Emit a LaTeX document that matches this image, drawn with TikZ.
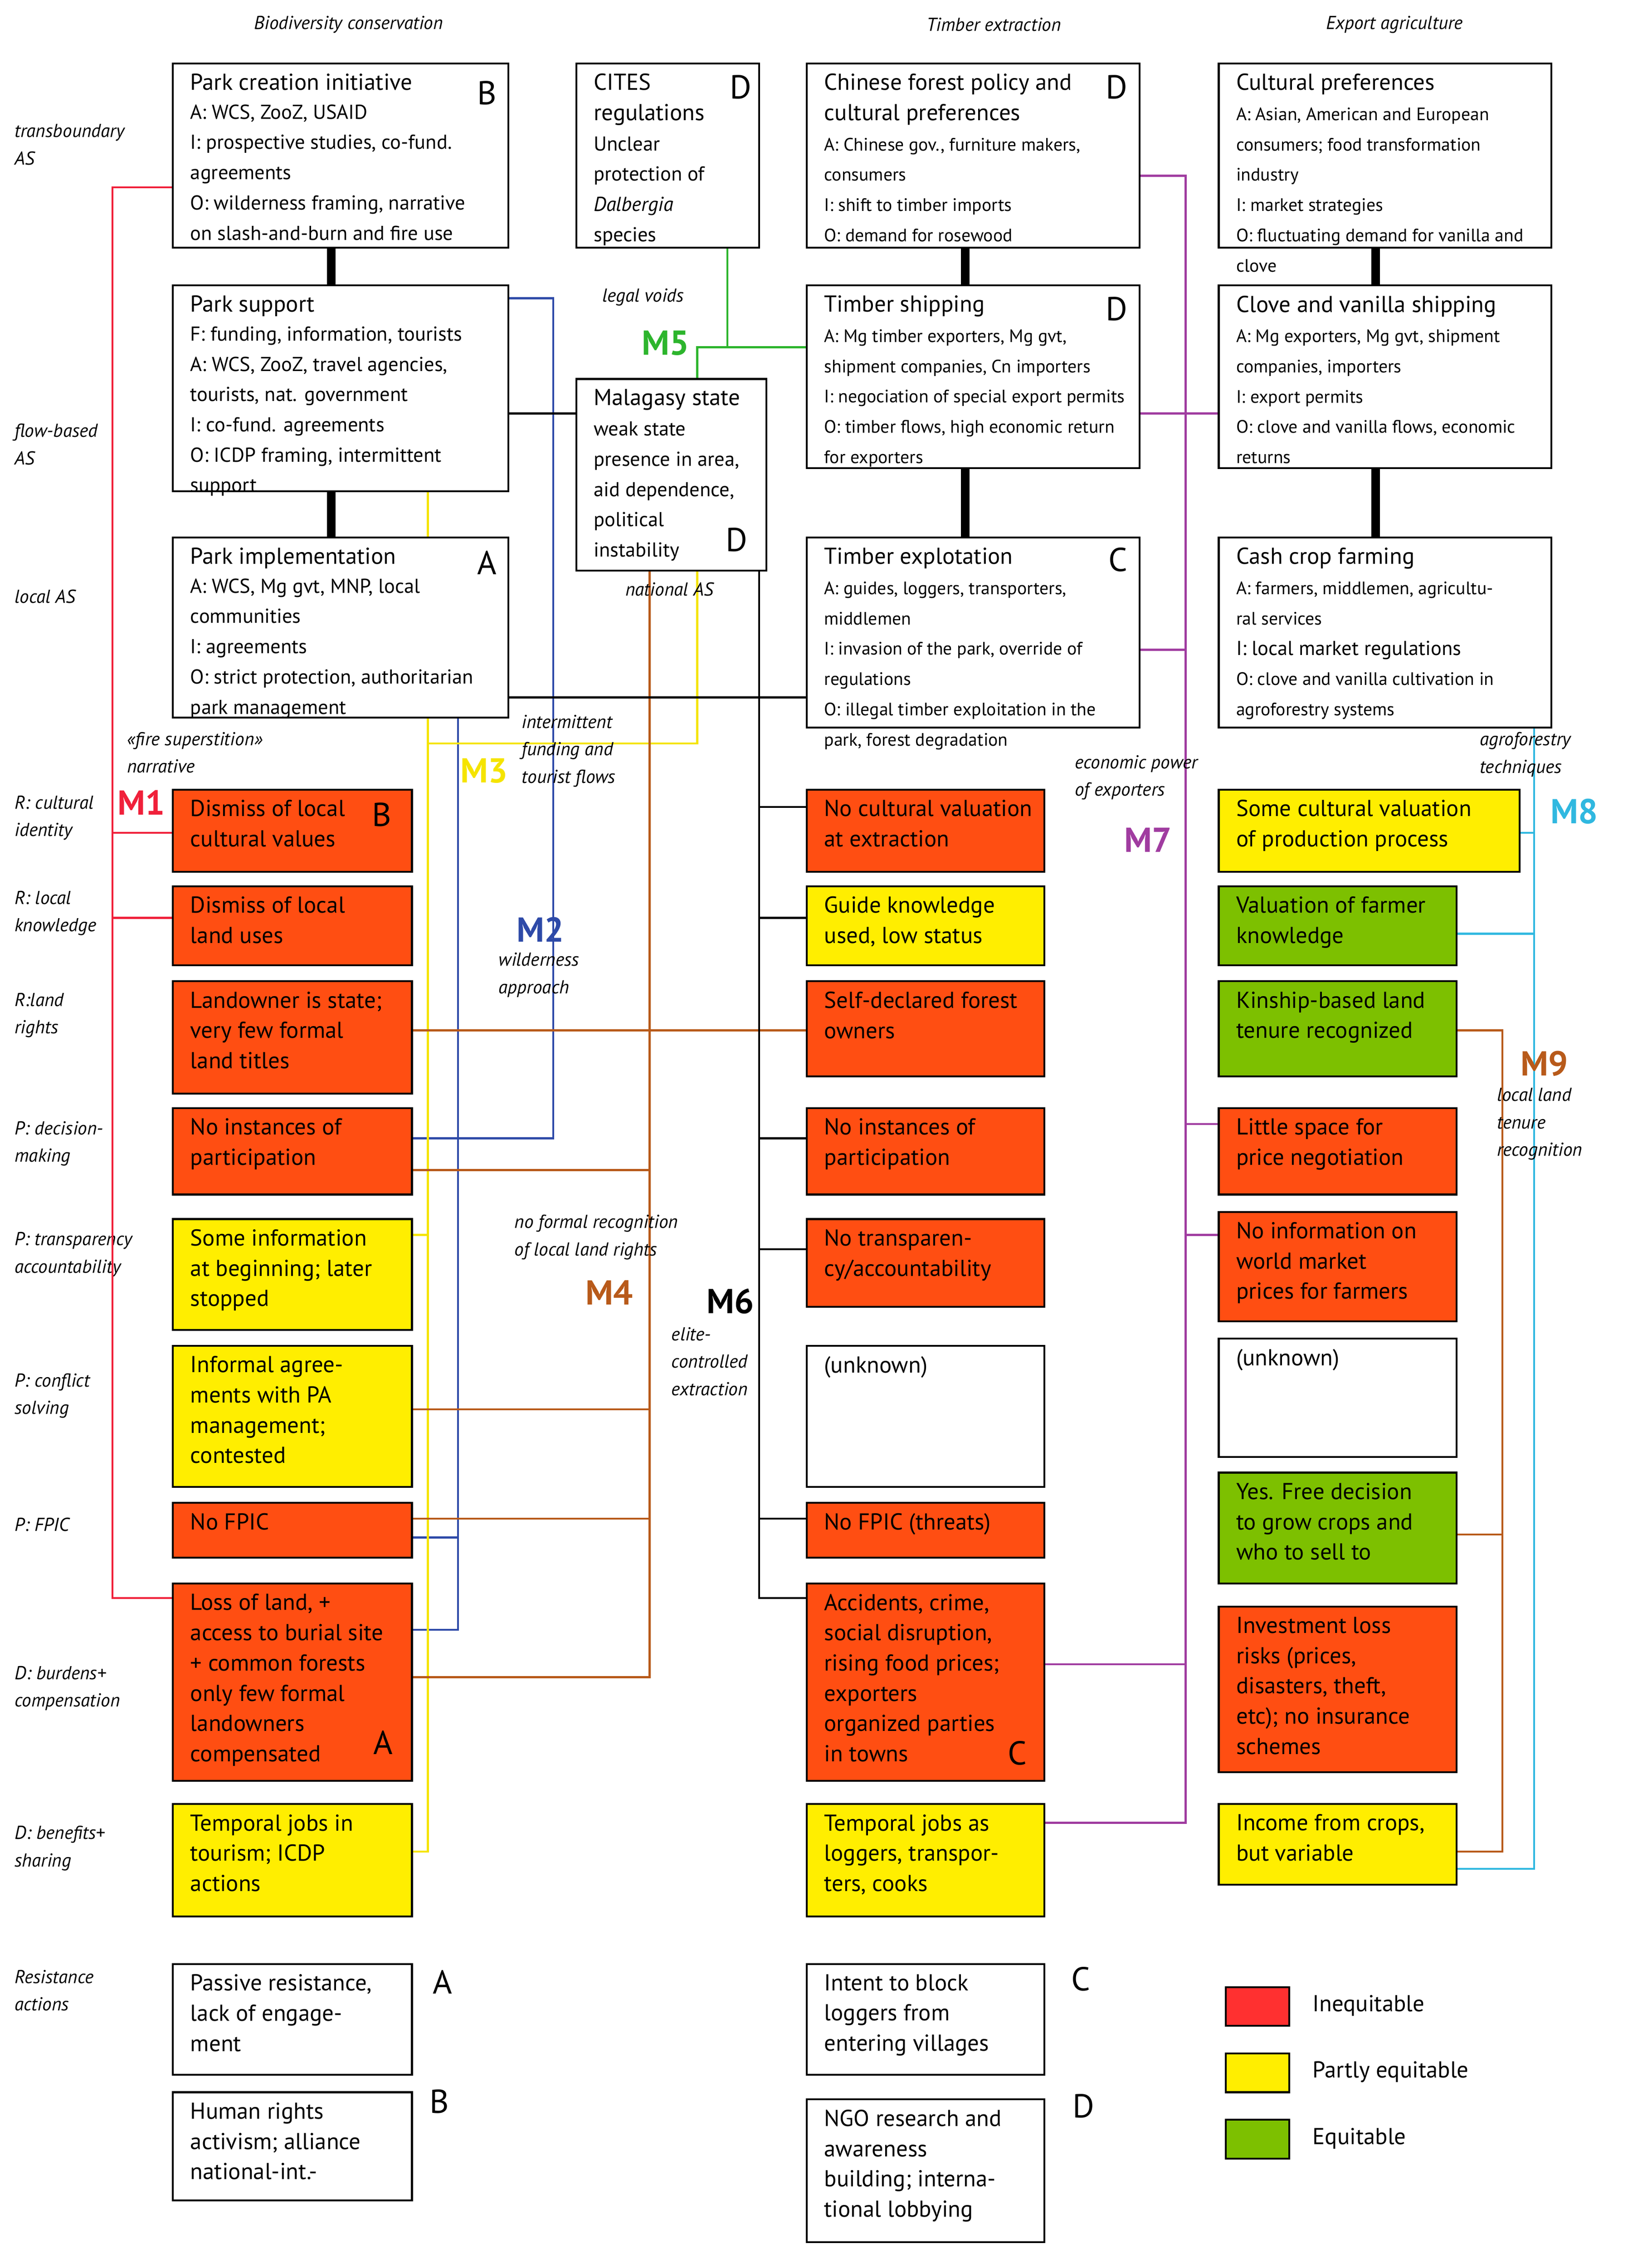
\documentclass[tikz,border=0pt]{standalone}
\usepackage{fontspec}
\setmainfont{PT Sans}
\definecolor{cR}{HTML}{FF4E12}
\definecolor{cY}{HTML}{FFEE00}
\definecolor{cG}{HTML}{7DC000}
\definecolor{cL}{HTML}{FF3030}
\definecolor{m1}{HTML}{F0203A}
\definecolor{m2}{HTML}{2E4AA8}
\definecolor{m3}{HTML}{F5E400}
\definecolor{m4}{HTML}{B85A1A}
\definecolor{m5}{HTML}{2DB52D}
\definecolor{m7}{HTML}{A03CA0}
\definecolor{m8}{HTML}{30B8E0}
\newcommand\ttl{\fontsize{16}{19.5}\selectfont}
\newcommand\mdm{\fontsize{14}{19}\selectfont}
\newcommand\sml{\fontsize{12.5}{16.8}\selectfont}
\newcommand\bx[7]{\node[box,fill=#6,minimum width={(#4-#2)*1pt},minimum height={(#5-#3)*1pt}] (#1) at (#2,#3) {};
\node[txt] (#1t) at ({#2+12},{#3+7}) {#7};}
\tikzset{
box/.style={draw,line width=1.3pt,inner sep=0,outer sep=0,anchor=north west},
txt/.style={anchor=north west,inner sep=0,align=left,font=\fontsize{16}{21}\selectfont},
lab/.style={anchor=north west,inner sep=0,align=left,font=\fontsize{13}{19}\selectfont\itshape},
mlab/.style={inner sep=0,font=\fontsize{24}{24}\selectfont\bfseries},
let/.style={anchor=north east,inner sep=0,font=\fontsize{23}{23}\selectfont},
con/.style={line width=1.4pt},
thick/.style={line width=6pt}
}
\begin{document}
\begin{tikzpicture}[x=1pt,y=-1pt]
\useasboundingbox[fill=white] (0,0) rectangle (1130,1574);
% headers
\node[lab,anchor=center] (h1) at (242,17) {Biodiversity conservation};
\node[lab,anchor=center] (h2) at (690,17) {Timber extraction};
\node[lab,anchor=center] (h3) at (968,17) {Export agriculture};
% left labels
\node[lab] (l1) at (10,86) {transboundary\\AS};
\node[lab] (l2) at (10,294) {flow-based\\AS};
\node[lab] (l3) at (10,409) {local AS};
\node[lab] (l4) at (10,552) {R: cultural\\identity};
\node[lab] (l5) at (10,618) {R: local\\knowledge};
\node[lab] (l6) at (10,689) {R:land\\rights};
\node[lab] (l7) at (10,778) {P: decision-\\making};
\node[lab] (l8) at (10,855) {P: transparency\\accountability};
\node[lab] (l9) at (10,953) {P:  conflict\\solving};
\node[lab] (l10) at (10,1053) {P:  FPIC};
\node[lab] (l11) at (10,1156) {D: burdens+\\compensation};
\node[lab] (l12) at (10,1267) {D: benefits+\\sharing};
\node[lab] (l13) at (10,1367) {Resistance\\actions};
% connectors (drawn first)
\draw[thick] (230,172) -- (230,198); \draw[thick] (230,341) -- (230,373);
\draw[thick] (670,172) -- (670,198); \draw[thick] (670,325) -- (670,373);
\draw[thick] (955,172) -- (955,198); \draw[thick] (955,325) -- (955,373);
% M1
\draw[con,m1] (120,130) -- (78,130) -- (78,1109) -- (120,1109);
\draw[con,m1] (78,578) -- (120,578); \draw[con,m1] (78,637) -- (120,637);
% M2
\draw[con,m2] (353,207) -- (384,207) -- (384,790) -- (286,790);
\draw[con,m2] (318,498) -- (318,1131) -- (286,1131);
\draw[con,m2] (318,1067) -- (286,1067);
% M3
\draw[con,m3] (297,341) -- (297,1285) -- (286,1285);
\draw[con,m3] (297,857) -- (286,857);
\draw[con,m3] (297,516) -- (484,516) -- (484,396);
% M4
\draw[con,m4] (451,396) -- (451,1164) -- (286,1164);
\draw[con,m4] (451,812) -- (286,812); \draw[con,m4] (451,978) -- (286,978);
\draw[con,m4] (451,1054) -- (286,1054);
\draw[con,m4] (286,715) -- (560,715);
% M5
\draw[con,m5] (505,172) -- (505,241); \draw[con,m5] (484,263) -- (484,241) -- (560,241);
% M6
\draw[con] (353,287) -- (400,287); \draw[con] (353,484) -- (560,484);
\draw[con] (527,396) -- (527,1109) -- (560,1109);
\foreach \yy in {560,637,790,867,1054} {\draw[con] (527,\yy) -- (560,\yy);}
% M7
\draw[con,m7] (791,122) -- (823,122) -- (823,1265) -- (725,1265);
\draw[con,m7] (791,287) -- (846,287); \draw[con,m7] (791,451) -- (823,451);
\draw[con,m7] (823,780) -- (846,780); \draw[con,m7] (823,857) -- (846,857);
\draw[con,m7] (823,1155) -- (725,1155);
% M8
\draw[con,m8] (1065,505) -- (1065,1297) -- (1011,1297);
\draw[con,m8] (1065,648) -- (1011,648); \draw[con,m8] (1065,578) -- (1055,578);
% M9
\draw[con,m4] (1011,715) -- (1043,715) -- (1043,1285) -- (1011,1285);
\draw[con,m4] (1043,1065) -- (1011,1065);
% top boxes
\bx{pc}{120}{44}{353}{172}{white}{\ttl Park creation initiative\\[-1pt]\mdm A: WCS, ZooZ, USAID\\\mdm I: prospective studies, co-fund.\\\mdm agreements\\\mdm O: wilderness framing, narrative\\\mdm on slash-and-burn and fire use}
\node[let] (pcl) at (345,56) {B};
\bx{ci}{400}{44}{527}{172}{white}{\ttl CITES\\\ttl regulations\\\mdm Unclear\\\mdm protection of\\\mdm \itshape Dalbergia\\\mdm species}
\node[let] (cil) at (522,52) {D};
\bx{cf}{560}{44}{791}{172}{white}{\ttl Chinese forest policy and\\\ttl cultural preferences\\\sml A: Chinese gov., furniture makers,\\\sml consumers\\\sml I: shift to timber imports\\\sml O: demand for rosewood}
\node[let] (cfl) at (783,52) {D};
\bx{cp}{846}{44}{1077}{172}{white}{\ttl Cultural preferences\\\sml A: Asian, American and European\\\sml consumers; food transformation\\\sml industry\\\sml I: market strategies\\\sml O: fluctuating demand for vanilla and\\\sml clove}
\bx{ps}{120}{198}{353}{341}{white}{\ttl Park support\\[-1pt]\mdm F: funding, information, tourists\\\mdm A: WCS, ZooZ, travel agencies,\\\mdm tourists, nat. government\\\mdm I: co-fund. agreements\\\mdm O: ICDP framing, intermittent\\\mdm support}
\bx{ms}{400}{263}{532}{396}{white}{\ttl Malagasy state\\\mdm weak state\\\mdm presence in area,\\\mdm aid dependence,\\\mdm political\\\mdm instability}
\node[let] (msl) at (519,366) {D};
\bx{ts}{560}{198}{791}{325}{white}{\ttl Timber shipping\\\sml A: Mg timber exporters, Mg gvt,\\\sml shipment companies, Cn importers\\\sml I: negociation of special export permits\\\sml O: timber flows, high economic return\\\sml for exporters}
\node[let] (tsl) at (783,206) {D};
\bx{cv}{846}{198}{1077}{325}{white}{\ttl Clove and vanilla shipping\\\sml A: Mg exporters, Mg gvt, shipment\\\sml companies, importers\\\sml I: export permits\\\sml O: clove and vanilla flows, economic\\\sml returns}
\bx{pi}{120}{373}{353}{498}{white}{\ttl Park implementation\\[-1pt]\mdm A: WCS, Mg gvt, MNP, local\\\mdm communities\\\mdm I: agreements\\\mdm O: strict protection, authoritarian\\\mdm park management}
\node[let] (pil) at (345,382) {A};
\bx{te}{560}{373}{791}{505}{white}{\ttl Timber explotation\\\sml A: guides, loggers, transporters,\\\sml middlemen\\\sml I: invasion of the park, override of\\\sml regulations\\\sml O: illegal timber exploitation in the\\\sml park, forest degradation}
\node[let] (tel) at (783,380) {C};
\bx{cc}{846}{373}{1077}{505}{white}{\ttl Cash crop farming\\\sml A: farmers, middlemen, agricultu-\\\sml ral services\\\mdm I: local market regulations\\\sml O: clove and vanilla cultivation in\\\sml agroforestry systems}
% column 1
\bx{a1}{120}{548}{286}{605}{cR}{Dismiss of local\\cultural values}
\node[let] (a1l) at (272,557) {B};
\bx{a2}{120}{615}{286}{670}{cR}{Dismiss of local\\land uses}
\bx{a3}{120}{681}{286}{759}{cR}{Landowner is state;\\very few formal\\land titles}
\bx{a4}{120}{769}{286}{829}{cR}{No instances of\\participation}
\bx{a5}{120}{846}{286}{923}{cY}{Some information\\at beginning; later\\stopped}
\bx{a6}{120}{934}{286}{1032}{cY}{Informal agree-\\ments with PA\\management;\\contested}
\bx{a7}{120}{1043}{286}{1081}{cR}{No FPIC}
\bx{a8}{120}{1099}{286}{1236}{cR}{Loss of land, +\\access to burial site\\+ common forests\\only few formal\\landowners\\compensated}
\node[let] (a8l) at (273,1201) {A};
\bx{a9}{120}{1252}{286}{1330}{cY}{Temporal jobs in\\tourism; ICDP\\actions}
\bx{r1}{120}{1363}{286}{1440}{white}{Passive resistance,\\lack of engage-\\ment}
\node[let] (r1l) at (314,1367) {A};
\bx{r2}{120}{1452}{286}{1527}{white}{Human rights\\activism; alliance\\national-int.-}
\node[let] (r2l) at (312,1450) {B};
% column 2
\bx{b1}{560}{548}{725}{605}{cR}{No cultural valuation\\at extraction}
\bx{b2}{560}{615}{725}{670}{cY}{Guide knowledge\\used, low status}
\bx{b3}{560}{681}{725}{747}{cR}{Self-declared forest\\owners}
\bx{b4}{560}{769}{725}{829}{cR}{No instances of\\participation}
\bx{b5}{560}{846}{725}{907}{cR}{No transparen-\\cy/accountability}
\bx{b6}{560}{934}{725}{1032}{white}{(unknown)}
\bx{b7}{560}{1043}{725}{1081}{cR}{No FPIC (threats)}
\bx{b8}{560}{1099}{725}{1236}{cR}{Accidents, crime,\\social disruption,\\rising food prices;\\exporters\\organized parties\\in towns}
\node[let] (b8l) at (713,1208) {C};
\bx{b9}{560}{1252}{725}{1330}{cY}{Temporal jobs as\\loggers, transpor-\\ters, cooks}
\bx{r3}{560}{1363}{725}{1440}{white}{Intent to block\\loggers from\\entering villages}
\node[let] (r3l) at (757,1365) {C};
\bx{r4}{560}{1457}{725}{1556}{white}{NGO research and\\awareness\\building; interna-\\tional lobbying}
\node[let] (r4l) at (760,1453) {D};
% column 3
\bx{c1}{846}{548}{1055}{605}{cY}{Some cultural valuation\\of production process}
\bx{c2}{846}{615}{1011}{670}{cG}{Valuation of farmer\\knowledge}
\bx{c3}{846}{681}{1011}{747}{cG}{Kinship-based land\\tenure recognized}
\bx{c4}{846}{769}{1011}{829}{cR}{Little space for\\price negotiation}
\bx{c5}{846}{841}{1011}{917}{cR}{No information on\\world market\\prices for farmers}
\bx{c6}{846}{929}{1011}{1011}{white}{(unknown)}
\bx{c7}{846}{1022}{1011}{1099}{cG}{Yes. Free decision\\to grow crops and\\who to sell to}
\bx{c8}{846}{1115}{1011}{1230}{cR}{Investment loss\\risks (prices,\\disasters, theft,\\etc); no insurance\\schemes}
\bx{c9}{846}{1252}{1011}{1308}{cY}{Income from crops,\\but variable}
% legend
\node[box,fill=cL,minimum width=44pt,minimum height=27pt] (lg1) at (851,1379) {};
\node[box,fill=cY,minimum width=44pt,minimum height=27pt] (lg2) at (851,1425) {};
\node[box,fill=cG,minimum width=44pt,minimum height=27pt] (lg3) at (851,1471) {};
\node[txt,anchor=west] (lt1) at (911,1392) {Inequitable};
\node[txt,anchor=west] (lt2) at (911,1438) {Partly equitable};
\node[txt,anchor=west] (lt3) at (911,1484) {Equitable};
% mechanism labels
\node[mlab,m1] (M1) at (98,557) {M1};
\node[lab] (M1t) at (88,508) {«fire superstition»\\narrative};
\node[mlab,m2] (M2) at (375,645) {M2};
\node[lab] (M2t) at (346,661) {wilderness\\approach};
\node[mlab,m3] (M3) at (336,535) {M3};
\node[lab] (M3t) at (362,496) {intermittent\\funding and\\tourist flows};
\node[mlab,m4] (M4) at (423,897) {M4};
\node[lab] (M4t) at (357,843) {no formal recognition\\of local land rights};
\node[mlab,m5] (M5) at (462,238) {M5};
\node[lab] (M5t) at (418,200) {legal voids};
\node[lab] (nas) at (434,404) {national AS};
\node[mlab] (M6) at (507,903) {M6};
\node[lab] (M6t) at (466,921) {elite-\\controlled\\extraction};
\node[mlab,m7] (M7) at (797,583) {M7};
\node[lab] (M7t) at (746,524) {economic power\\of exporters};
\node[mlab,m8] (M8) at (1093,563) {M8};
\node[lab] (M8t) at (1027,508) {agroforestry\\techniques};
\node[mlab,m4] (M9) at (1072,738) {M9};
\node[lab] (M9t) at (1039,755) {local land\\tenure\\recognition};
\end{tikzpicture}
\end{document}
